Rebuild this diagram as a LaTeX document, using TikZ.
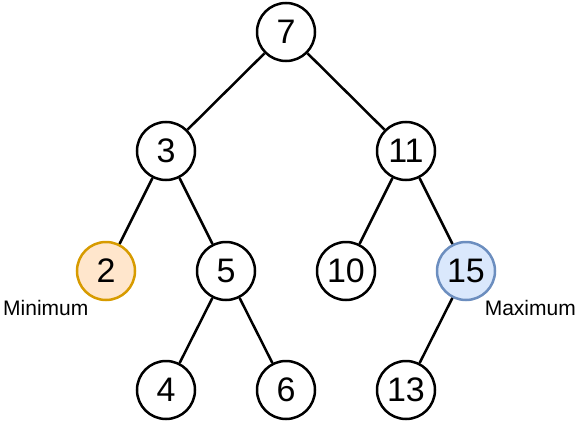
\documentclass[tikz,border=0pt]{standalone}
\usepackage{fontspec}
\setmainfont{Liberation Sans}
\definecolor{orfill}{HTML}{FFE6CC}
\definecolor{ordraw}{HTML}{D79B00}
\definecolor{blfill}{HTML}{DAE8FC}
\definecolor{bldraw}{HTML}{6C8EBF}
\begin{document}
\begin{tikzpicture}[x=1pt,y=-1pt,
  tnode/.style={circle,draw=black,line width=2.5pt,minimum size=58pt,inner sep=0pt,fill=white,font=\fontsize{34}{34}\selectfont},
  minnode/.style={tnode,draw=ordraw,fill=orfill},
  maxnode/.style={tnode,draw=bldraw,fill=blfill},
  edge/.style={line width=2.5pt},
  lbl/.style={font=\fontsize{21}{21}\selectfont,inner sep=0pt}]
\useasboundingbox (0,0) rectangle (576,423);
\node[tnode] (n7) at (286,32) {7};
\node[tnode] (n3) at (166,151) {3};
\node[tnode] (n11) at (406,151) {11};
\node[minnode] (n2) at (106,271) {2};
\node[tnode] (n5) at (226,271) {5};
\node[tnode] (n10) at (346,271) {10};
\node[maxnode] (n15) at (466,271) {15};
\node[tnode] (n4) at (166,390) {4};
\node[tnode] (n6) at (286,390) {6};
\node[tnode] (n13) at (406,390) {13};
\draw[edge] (n7) -- (n3);
\draw[edge] (n7) -- (n11);
\draw[edge] (n3) -- (n2);
\draw[edge] (n3) -- (n5);
\draw[edge] (n11) -- (n10);
\draw[edge] (n11) -- (n15);
\draw[edge] (n5) -- (n4);
\draw[edge] (n5) -- (n6);
\draw[edge] (n15) -- (n13);
\node[lbl,anchor=base west] (lmin) at (3,315) {Minimum};
\node[lbl,anchor=base east] (lmax) at (576,315) {Maximum};
\end{tikzpicture}
\end{document}
